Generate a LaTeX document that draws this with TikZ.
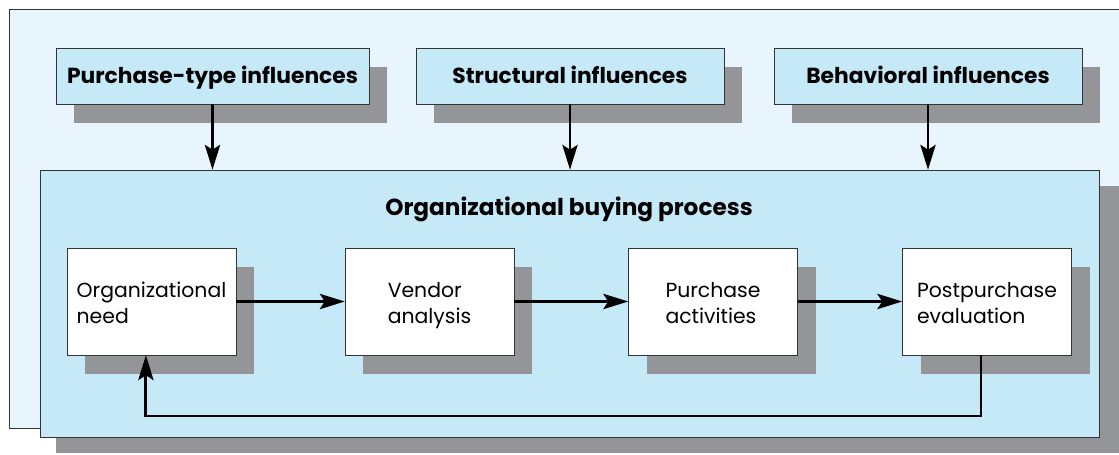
\documentclass[tikz,border=0pt]{standalone}
\usepackage{fontspec}
\setmainfont{Poppins}
\usepackage{tikz}
\usetikzlibrary{positioning}
\usetikzlibrary{arrows.meta,shadows}

\definecolor{paleblue}{HTML}{E8F5FC}
\definecolor{procblue}{HTML}{C6E9F8}
\definecolor{shadowgray}{HTML}{939598}
\definecolor{edgegray}{HTML}{333333}

\begin{document}
\begin{tikzpicture}[
influence/.style ={rectangle, draw=edgegray, fill=procblue, minimum width=7.7cm, minimum height=1.4cm, text height=14pt, text depth=3.4pt,
  font=\fontsize{15.5}{18}\selectfont\bfseries,
  drop shadow={shadow xshift=0.46cm, shadow yshift=-0.48cm, fill=shadowgray, opacity=1}},
stage/.style ={rectangle, draw=edgegray, fill=white, minimum width=4.225cm, minimum height=2.675cm, align=left, text height=32pt, text depth=0pt,
  font=\fontsize{14.5}{19.2}\selectfont,
  drop shadow={shadow xshift=0.46cm, shadow yshift=-0.48cm, fill=shadowgray, opacity=1}},
process/.style ={rectangle, draw=edgegray, fill=procblue, minimum width=26.475cm, minimum height=6.675cm},
flow/.style ={-{Stealth[length=0.62cm,width=0.38cm,inset=0.12cm]}, line width=2pt}
]
\clip (0,0) rectangle (27.975,11.375);
%outer light box
\filldraw[fill=paleblue, draw=edgegray] (0.225,0.675) rectangle (28.5,11.15);
%buying process box and its shadow
\path (14.2375,3.7875) node[process] (obp) {};
\fill[shadowgray] ([shift={(0.4,-0.4)}]obp.south west) rectangle ([shift={(1,-0.4)}]obp.north east);
\path (14.2375,3.7875) node[process] {};
\path (14.225,6.15) node[font=\fontsize{16.5}{19}\selectfont\bfseries] (title) {Organizational buying process};
%influences
\path (5.3125,9.475) node[influence, minimum width=7.825cm] (ptype) {Purchase-type influences}
(14.25,9.475) node[influence] (struct) {Structural influences}
(23.2,9.475) node[influence] (behav) {Behavioral influences};
\draw[flow] (ptype.south) -- (ptype.south |- obp.north);
\draw[flow] (struct.south) -- (struct.south |- obp.north);
\draw[flow] (behav.south) -- (behav.south |- obp.north);
%stages
\path (3.7875,3.8375) node[stage] (need) {Organizational\\need}
(10.7375,3.8375) node[stage] (vendor) {Vendor\\analysis}
(17.825,3.8375) node[stage] (purch) {Purchase\\activities}
(24.675,3.8375) node[stage] (post) {Postpurchase\\evaluation};
\draw[flow] (need.east) -- (vendor.west);
\draw[flow] (vendor.east) -- (purch.west);
\draw[flow] (purch.east) -- (post.west);
%feedback loop
\coordinate (loop) at (0,0.975);
\draw[flow] ([xshift=-0.15cm]post.south) -- ([xshift=-0.15cm]post.south |- loop) -| ([xshift=-0.14cm]need.south);
\end{tikzpicture}
\end{document}
